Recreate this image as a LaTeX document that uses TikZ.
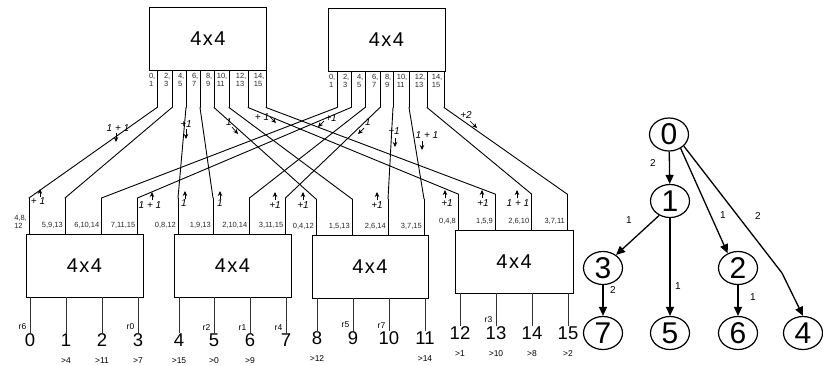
\documentclass[tikz,border=0pt]{standalone}
\usepackage{fontspec}
\setmainfont{Liberation Sans}
\usetikzlibrary{arrows.meta, calc, shapes.geometric}

\begin{document}
\begin{tikzpicture}[x=1pt, y=-1pt,
    box/.style={draw, line width=0.9pt, minimum width=117pt, minimum height=63pt, inner sep=0pt, font=\fontsize{20}{20}\selectfont},
    wire/.style={line width=0.9pt, line cap=round},
    outwire/.style={line width=1pt, black!80},
    port/.style={font=\fontsize{7.5}{8.5}\selectfont, inner sep=0pt, align=left, text=black!85},
    hop/.style={font=\itshape\fontsize{10}{10}\selectfont, inner sep=0pt},
    tick/.style={-{Stealth[length=5pt, width=4.5pt]}, line width=0.7pt},
    pin/.style={font=\fontsize{18.5}{18.5}\selectfont, inner sep=0pt},
    rtag/.style={font=\fontsize{8.5}{8.5}\selectfont, inner sep=0pt},
    dest/.style={font=\fontsize{8.5}{8.5}\selectfont, inner sep=0pt},
    vtx/.style={draw, ellipse, line width=1.2pt, minimum width=39pt, minimum height=33pt, inner sep=0pt, font=\fontsize{30}{30}\selectfont},
    arc/.style={-{Triangle[length=9pt, width=8pt]}, line width=1.3pt},
    elab/.style={font=\fontsize{10}{10}\selectfont, inner sep=0pt}]
    \useasboundingbox (0,0) rectangle (823,365);
    % first stage
    \node[box] (A) at (208,38.5) {4\kern1.5pt x\kern1.5pt 4};
    \node[box] (B) at (386.5,39.5) {4\kern1.5pt x\kern1.5pt 4};
    \foreach \x/\t [count=\i] in {157/{0,\\1},172/{2,\\3},186/{4,\\5},200/{6,\\7},214/{8,\\9},229/{10,\\11},248/{12,\\13},266/{14,\\15}} {
        \coordinate (a\i) at (\x,107.5);
        \draw[wire] (a\i |- A.south) -- (a\i);
        \node[port, anchor=north east] (pa\i) at ($(a\i |- A.south)+(-1.5,2.5)$) {\t};
    }
    \foreach \x/\t [count=\i] in {337/{0,\\1},351/{2,\\3},365/{4,\\5},380/{6,\\7},393/{8,\\9},409/{10,\\11},427/{12,\\13},444/{14,\\15}} {
        \coordinate (b\i) at (\x,107.5);
        \draw[wire] (b\i |- B.south) -- (b\i);
        \node[port, anchor=north east] (pb\i) at ($(b\i |- B.south)+(-1.5,2.5)$) {\t};
    }
    % second stage
    \node[box] (C) at (84.5,265.5) {4\kern1.5pt x\kern1.5pt 4};
    \node[box] (D) at (232.5,265.5) {4\kern1.5pt x\kern1.5pt 4};
    \node[box, minimum width=116pt] (E) at (370,266.5) {4\kern1.5pt x\kern1.5pt 4};
    \node[box, minimum width=118pt] (F) at (514,261.5) {4\kern1.5pt x\kern1.5pt 4};
    \foreach \x/\y/\b/\t [count=\i] in {29/198/C/{4,8,\\12},65/198/C/{5,9,13},101.5/198/C/{6,10,14},137.5/198/C/{7,11,15},
        178/198/D/{0,8,12},213/198/D/{1,9,13},249.5/198/D/{2,10,14},285.5/198/D/{3,11,15},
        316/199/E/{0,4,12},352/199/E/{1,5,13},388/199/E/{2,6,14},424/199/E/{3,7,15},
        458/194/F/{0,4,8},495/194/F/{1,5,9},531.5/194/F/{2,6,10},567/194/F/{3,7,11}} {
        \coordinate (p\i) at (\x,\y);
        \draw[wire] (p\i) -- (p\i |- \b.north);
        \node[port, anchor=south east] (pp\i) at ($(p\i |- \b.north)+(-2,-4.5)$) {\t};
    }
    % links between the stages
    \foreach \s/\d in {a1/p1,a2/p2,a3/p5,a4/p6,a5/p9,a6/p10,a7/p13,a8/p14,
        b1/p3,b2/p4,b3/p7,b4/p8,b5/p11,b6/p12,b7/p15,b8/p16}
        \draw[wire] (\s) -- (\d);
    % hop counts on the links
    \foreach \x/\y/\t/\ax/\ay/\bx/\by [count=\i] in {118/128/1 + 1/116/133/116/142, 186/124/+1/186/129/186/139,
        229/122/1/232/127/238/134, 262/117/+ 1/270/117/276/123, 331/118/+1/324/121/318/127,
        368/122/1/364/128/358/134, 394/131/+1/395/138/395/147, 427/135/1 + 1/422/141/422/150,
        466/115/+2/470/121/477/128,
        38/201/+ 1/40/197/40/189, 150/205/1 + 1/152/200/152/192, 184/203/1/185/199/185/191,
        220/203/1/220/199/220/191, 275/205/+1/275/200/275/192, 303/205/+1/303/200/303/192,
        377/205/+1/377/200/377/192, 447/203/+1/445/198/445/190, 483/203/+1/482/198/482/190,
        518/203/1 + 1/517/198/517/190} {
        \node[hop] (h\i) at (\x,\y) {\t};
        \draw[tick] (\ax,\ay) -- (\bx,\by);
    }
    % outputs
    \foreach \x/\y/\b [count=\i from 0] in {30/340/C,66/340/C,102/340/C,138/340/C,
        179/340/D,214/340/D,250/340/D,286/340/D,
        317/338/E,353/338/E,389/338/E,425/338/E,
        460/333/F,496/333/F,532/333/F,568/333/F} {
        \node[pin] (o\i) at (\x,\y) {\i};
        \draw[outwire] (o\i.north |- \b.south) -- (o\i.north);
    }
    \foreach \i/\r in {0/r6,3/r0,5/r2,6/r1,7/r4,9/r5,10/r7,13/r3}
        \node[rtag, anchor=south east] (r\i) at ($(o\i.north)+(-3.5,-3)$) {\r};
    \foreach \i/\g in {1/4,2/11,3/7,4/15,5/0,6/9,8/12,11/14,12/1,13/10,14/8,15/2}
        \node[dest] (g\i) at ($(o\i)+(0,20.5)$) {>\g};
    % tree
    \node[vtx] (n0) at (669,134.5) {0};
    \node[vtx] (n1) at (670,201) {1};
    \node[vtx] (n3) at (603,268) {3};
    \node[vtx] (n2) at (738,268) {2};
    \node[vtx] (n7) at (603,333) {7};
    \node[vtx] (n5) at (670,333) {5};
    \node[vtx] (n6) at (738,333) {6};
    \node[vtx] (n4) at (803,333) {4};
    \coordinate (k4) at (782,273);
    \draw[arc] (n0) -- (n1);
    \draw[arc] (n0.-50) -- (n2.125);
    \draw[arc] (n0.-38) -- (k4) -- (n4.north);
    \draw[arc] (n1.-127) -- (n3.45);
    \draw[arc] (n1) -- (n5);
    \draw[arc] (n3) -- (n7);
    \draw[arc] (n2) -- (n6);
    \node[elab] (l01) at (653,163) {2};
    \node[elab] (l02) at (723,215) {1};
    \node[elab] (l04) at (758,216) {2};
    \node[elab] (l13) at (629,220) {1};
    \node[elab] (l15) at (678,286) {1};
    \node[elab] (l37) at (613,290) {2};
    \node[elab] (l26) at (753,297) {1};
\end{tikzpicture}
\end{document}
